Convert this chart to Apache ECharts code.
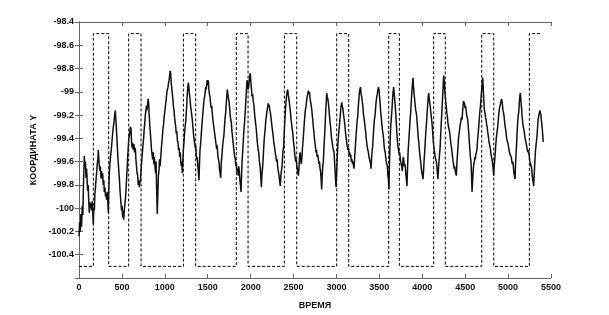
<!DOCTYPE html>
<html lang="ru">
<head>
	<meta charset="UTF-8">
	<title>КООРДИНАТА Y</title>
	<script type="text/javascript" src="https://cdn.jsdelivr.net/npm/echarts@6/dist/echarts.min.js"></script>
	<style type="text/css">
		html, body { margin: 0; padding: 0; background: #fff; }
		#main { width: 609px; height: 315px; }
	</style>
</head>
<body>
	<div id="main"></div>
	<script type="text/javascript">
		// измеренная координата: [время, Y]
		var coordY = [
			[0,-100.24],[8,-100.12],[15,-100.2],[22,-100.05],[30,-100.16],[38,-99.98],[45,-100.06],[52,-99.8],[58,-99.65],[62,-99.55],[68,-99.64],[75,-99.6],[82,-99.74],[88,-99.66],[93,-99.72],[100,-99.85],[107,-99.8],[113,-99.93],[120,-100.04],[127,-99.95],[133,-100.0],[140,-99.96],[147,-100.02],[153,-99.94],[159,-100.0],[163,-100.08],[167,-100.14],[172,-100.0],[179,-100.02],[185,-99.88],[192,-99.82],[198,-99.76],[205,-99.7],[212,-99.62],[220,-99.58],[225,-99.5],[229,-99.55],[235,-99.62],[242,-99.68],[249,-99.64],[256,-99.74],[262,-99.68],[270,-99.75],[276,-99.7],[282,-99.8],[289,-99.76],[295,-99.86],[302,-99.82],[309,-99.9],[315,-99.88],[322,-99.93],[328,-99.86],[334,-99.92],[338,-99.98],[342,-100.04],[347,-99.85],[353,-99.7],[360,-99.62],[368,-99.55],[376,-99.5],[385,-99.42],[392,-99.36],[400,-99.3],[408,-99.26],[415,-99.2],[423,-99.16],[430,-99.24],[439,-99.36],[446,-99.46],[453,-99.56],[462,-99.66],[470,-99.74],[477,-99.84],[483,-99.9],[489,-99.96],[496,-100.02],[502,-99.98],[509,-100.08],[515,-100.02],[521,-100.1],[528,-100.02],[535,-99.96],[541,-99.92],[548,-99.84],[555,-99.74],[561,-99.66],[567,-99.56],[574,-99.48],[580,-99.4],[586,-99.38],[593,-99.34],[600,-99.3],[606,-99.32],[612,-99.42],[618,-99.48],[625,-99.44],[632,-99.5],[640,-99.45],[648,-99.52],[656,-99.48],[663,-99.58],[670,-99.64],[677,-99.7],[684,-99.72],[690,-99.8],[697,-99.76],[703,-99.82],[709,-99.76],[715,-99.78],[722,-99.68],[730,-99.6],[737,-99.54],[745,-99.46],[753,-99.4],[760,-99.32],[767,-99.26],[773,-99.2],[780,-99.16],[786,-99.12],[792,-99.16],[800,-99.1],[806,-99.06],[812,-99.1],[818,-99.2],[824,-99.28],[830,-99.34],[838,-99.42],[845,-99.5],[852,-99.54],[858,-99.58],[865,-99.52],[872,-99.62],[878,-99.56],[885,-99.64],[892,-99.7],[898,-99.6],[905,-99.85],[912,-100.05],[918,-99.9],[925,-99.72],[932,-99.68],[938,-99.58],[945,-99.64],[951,-99.58],
			[958,-99.5],[965,-99.44],[972,-99.38],[978,-99.32],[985,-99.28],[992,-99.22],[998,-99.18],[1004,-99.14],[1010,-99.1],[1017,-99.06],[1024,-99.0],[1030,-98.98],[1037,-98.96],[1044,-98.92],[1050,-98.9],[1056,-98.86],[1062,-98.82],[1068,-98.84],[1074,-98.92],[1080,-98.96],[1088,-99.02],[1094,-99.06],[1100,-99.12],[1107,-99.16],[1114,-99.22],[1120,-99.26],[1127,-99.3],[1134,-99.36],[1140,-99.34],[1147,-99.42],[1154,-99.44],[1160,-99.5],[1167,-99.48],[1173,-99.56],[1180,-99.52],[1186,-99.6],[1192,-99.64],[1198,-99.6],[1204,-99.7],[1210,-99.6],[1216,-99.5],[1223,-99.44],[1230,-99.36],[1236,-99.3],[1243,-99.26],[1250,-99.18],[1256,-99.1],[1262,-99.02],[1268,-98.96],[1274,-98.92],[1280,-98.96],[1287,-99.02],[1294,-99.06],[1300,-99.12],[1307,-99.16],[1314,-99.2],[1320,-99.24],[1327,-99.3],[1334,-99.36],[1340,-99.4],[1347,-99.44],[1354,-99.48],[1360,-99.46],[1366,-99.54],[1372,-99.58],[1379,-99.56],[1385,-99.64],[1392,-99.7],[1398,-99.76],[1404,-99.62],[1410,-99.5],[1418,-99.44],[1425,-99.36],[1431,-99.3],[1437,-99.24],[1444,-99.18],[1451,-99.12],[1458,-99.06],[1464,-99.04],[1470,-99.0],[1476,-98.96],[1482,-98.98],[1488,-98.94],[1494,-98.9],[1500,-98.94],[1507,-98.9],[1513,-98.98],[1520,-99.02],[1526,-99.04],[1533,-99.1],[1540,-99.14],[1546,-99.12],[1553,-99.18],[1560,-99.24],[1567,-99.28],[1574,-99.32],[1581,-99.36],[1588,-99.4],[1595,-99.44],[1604,-99.49],[1610,-99.46],[1617,-99.54],[1624,-99.58],[1631,-99.6],[1637,-99.66],[1644,-99.7],[1651,-99.74],[1657,-99.62],[1664,-99.56],[1670,-99.5],[1677,-99.44],[1684,-99.4],[1690,-99.36],[1697,-99.28],[1703,-99.22],[1709,-99.18],[1716,-99.1],[1722,-99.04],[1728,-98.98],[1735,-99.02],[1742,-99.06],[1748,-99.08],[1755,-99.14],[1762,-99.2],[1768,-99.24],[1775,-99.26],[1782,-99.34],[1788,-99.38],[1795,-99.43],
			[1802,-99.48],[1808,-99.52],[1815,-99.56],[1822,-99.58],[1828,-99.64],[1835,-99.62],[1841,-99.69],[1848,-99.66],[1855,-99.72],[1862,-99.64],[1868,-99.68],[1875,-99.76],[1881,-99.8],[1888,-99.86],[1894,-99.72],[1900,-99.6],[1907,-99.52],[1913,-99.44],[1919,-99.36],[1925,-99.3],[1931,-99.24],[1938,-99.16],[1944,-99.08],[1951,-98.98],[1958,-98.9],[1964,-98.94],[1970,-98.98],[1977,-98.96],[1984,-98.9],[1990,-98.86],[1996,-98.84],[2003,-98.92],[2010,-98.98],[2016,-99.04],[2023,-99.02],[2030,-99.08],[2036,-99.1],[2043,-99.16],[2050,-99.22],[2056,-99.26],[2063,-99.3],[2070,-99.36],[2076,-99.42],[2082,-99.46],[2088,-99.5],[2094,-99.52],[2100,-99.58],[2106,-99.62],[2113,-99.66],[2119,-99.74],[2125,-99.82],[2131,-99.72],[2138,-99.66],[2144,-99.6],[2151,-99.5],[2157,-99.42],[2164,-99.36],[2171,-99.3],[2178,-99.24],[2185,-99.2],[2192,-99.16],[2199,-99.13],[2205,-99.1],[2210,-99.09],[2217,-99.12],[2224,-99.16],[2230,-99.18],[2237,-99.22],[2243,-99.26],[2249,-99.3],[2256,-99.34],[2263,-99.38],[2270,-99.44],[2276,-99.46],[2283,-99.5],[2290,-99.54],[2296,-99.56],[2302,-99.6],[2309,-99.58],[2315,-99.64],[2321,-99.68],[2327,-99.7],[2334,-99.74],[2340,-99.78],[2346,-99.81],[2352,-99.72],[2359,-99.68],[2366,-99.64],[2372,-99.56],[2378,-99.5],[2385,-99.47],[2391,-99.36],[2398,-99.26],[2404,-99.18],[2411,-99.1],[2418,-99.04],[2425,-99.0],[2432,-98.98],[2438,-99.02],[2445,-99.06],[2451,-99.09],[2458,-99.14],[2465,-99.18],[2471,-99.24],[2478,-99.28],[2485,-99.32],[2492,-99.36],[2498,-99.42],[2505,-99.46],[2512,-99.52],[2518,-99.56],[2525,-99.6],[2532,-99.58],[2538,-99.64],[2544,-99.66],[2551,-99.7],[2557,-99.72],[2564,-99.64],[2570,-99.56],[2576,-99.52],[2583,-99.56],[2589,-99.62],[2596,-99.58],[2602,-99.5],[2609,-99.44],[2615,-99.38],[2622,-99.3],[2630,-99.22],[2637,-99.16],[2645,-99.13],[2652,-99.08],[2659,-99.04],[2666,-99.02],[2672,-98.99],[2679,-99.02],[2686,-99.0],[2693,-99.06],[2700,-99.09],
			[2706,-99.12],[2712,-99.15],[2718,-99.2],[2724,-99.24],[2730,-99.3],[2737,-99.34],[2743,-99.4],[2750,-99.44],[2756,-99.48],[2762,-99.52],[2768,-99.5],[2775,-99.56],[2782,-99.54],[2789,-99.58],[2796,-99.62],[2802,-99.6],[2809,-99.66],[2816,-99.69],[2822,-99.76],[2828,-99.84],[2834,-99.72],[2840,-99.64],[2847,-99.6],[2853,-99.5],[2860,-99.4],[2867,-99.3],[2873,-99.2],[2880,-99.1],[2886,-99.01],[2892,-99.04],[2899,-99.06],[2905,-99.09],[2912,-99.14],[2918,-99.2],[2925,-99.26],[2932,-99.3],[2938,-99.36],[2945,-99.41],[2952,-99.44],[2958,-99.48],[2965,-99.5],[2972,-99.52],[2978,-99.6],[2984,-99.68],[2990,-99.76],[2995,-99.82],[3002,-99.7],[3010,-99.55],[3016,-99.46],[3022,-99.4],[3028,-99.34],[3033,-99.3],[3040,-99.24],[3047,-99.18],[3054,-99.12],[3061,-99.09],[3067,-99.12],[3074,-99.14],[3080,-99.18],[3087,-99.22],[3094,-99.26],[3100,-99.3],[3107,-99.36],[3114,-99.4],[3120,-99.44],[3127,-99.47],[3134,-99.5],[3140,-99.48],[3147,-99.54],[3154,-99.52],[3160,-99.56],[3167,-99.54],[3173,-99.6],[3180,-99.58],[3187,-99.62],[3193,-99.6],[3199,-99.64],[3205,-99.66],[3212,-99.56],[3218,-99.5],[3224,-99.43],[3230,-99.36],[3236,-99.3],[3242,-99.24],[3248,-99.21],[3255,-99.12],[3262,-99.06],[3268,-99.0],[3274,-98.98],[3280,-98.96],[3287,-99.02],[3294,-99.04],[3300,-99.08],[3307,-99.12],[3313,-99.18],[3320,-99.22],[3327,-99.26],[3333,-99.3],[3340,-99.34],[3347,-99.4],[3353,-99.44],[3360,-99.48],[3366,-99.5],[3372,-99.52],[3379,-99.56],[3386,-99.58],[3392,-99.6],[3398,-99.62],[3403,-99.66],[3410,-99.56],[3416,-99.5],[3422,-99.47],[3429,-99.38],[3436,-99.3],[3442,-99.24],[3449,-99.21],[3456,-99.14],[3463,-99.08],[3470,-99.04],[3476,-99.02],[3483,-98.98],[3490,-98.96],[3496,-98.98],[3502,-99.04],[3509,-99.1],[3516,-99.18],[3522,-99.22],[3529,-99.28],[3535,-99.32],[3542,-99.36],[3549,-99.4],[3555,-99.46],[3561,-99.5],[3568,-99.52],[3574,-99.56],[3580,-99.6],[3587,-99.62],[3593,-99.64],[3600,-99.72],[3606,-99.76],[3612,-99.84],
			[3618,-99.6],[3625,-99.43],[3632,-99.3],[3640,-99.22],[3647,-99.15],[3654,-99.06],[3660,-99.0],[3667,-98.96],[3673,-99.02],[3680,-99.08],[3686,-99.13],[3692,-99.2],[3698,-99.28],[3704,-99.35],[3710,-99.42],[3717,-99.47],[3724,-99.5],[3730,-99.54],[3736,-99.52],[3741,-99.55],[3748,-99.6],[3754,-99.62],[3760,-99.64],[3766,-99.68],[3772,-99.62],[3778,-99.56],[3784,-99.58],[3790,-99.64],[3797,-99.62],[3803,-99.66],[3810,-99.72],[3816,-99.76],[3822,-99.81],[3828,-99.66],[3835,-99.52],[3842,-99.43],[3848,-99.36],[3855,-99.28],[3860,-99.22],[3865,-99.18],[3872,-99.08],[3879,-99.0],[3885,-98.94],[3892,-98.88],[3898,-98.96],[3905,-99.02],[3912,-99.07],[3918,-99.12],[3924,-99.16],[3930,-99.18],[3935,-99.21],[3942,-99.28],[3948,-99.34],[3954,-99.4],[3959,-99.43],[3966,-99.5],[3972,-99.54],[3978,-99.58],[3982,-99.6],[3989,-99.66],[3996,-99.7],[4002,-99.72],[4009,-99.75],[4016,-99.66],[4022,-99.58],[4028,-99.52],[4034,-99.44],[4040,-99.36],[4046,-99.3],[4052,-99.24],[4058,-99.16],[4064,-99.1],[4070,-99.04],[4075,-99.01],[4082,-99.06],[4088,-99.1],[4094,-99.13],[4100,-99.18],[4106,-99.22],[4112,-99.26],[4117,-99.3],[4124,-99.38],[4130,-99.44],[4137,-99.49],[4144,-99.52],[4150,-99.56],[4157,-99.58],[4164,-99.6],[4170,-99.64],[4176,-99.7],[4183,-99.75],[4189,-99.66],[4195,-99.6],[4201,-99.54],[4207,-99.49],[4213,-99.4],[4219,-99.3],[4225,-99.22],[4230,-99.15],[4236,-99.06],[4242,-98.98],[4246,-98.9],[4250,-98.86],[4256,-98.92],[4262,-98.98],[4269,-99.04],[4275,-99.1],[4281,-99.14],[4286,-99.18],[4292,-99.21],[4298,-99.26],[4305,-99.3],[4312,-99.32],[4319,-99.35],[4326,-99.4],[4333,-99.44],[4340,-99.48],[4347,-99.52],[4353,-99.56],[4359,-99.6],[4365,-99.62],[4370,-99.66],[4377,-99.64],[4384,-99.68],[4390,-99.7],[4397,-99.72],[4403,-99.62],[4410,-99.54],[4416,-99.47],[4422,-99.4],[4429,-99.36],[4436,-99.32],[4442,-99.28],[4449,-99.26],[4456,-99.22],[4463,-99.24],[4469,-99.18],[4475,-99.12],[4480,-99.08],[4486,-99.07],[4492,-99.1],[4498,-99.14],[4504,-99.12],[4510,-99.15],[4517,-99.2],[4523,-99.22],[4529,-99.24],
			[4536,-99.3],[4542,-99.36],[4548,-99.43],[4555,-99.5],[4561,-99.56],[4568,-99.6],[4574,-99.72],[4580,-99.86],[4587,-99.76],[4595,-99.66],[4601,-99.62],[4607,-99.6],[4613,-99.56],[4618,-99.58],[4624,-99.54],[4631,-99.52],[4638,-99.49],[4644,-99.42],[4651,-99.36],[4658,-99.3],[4664,-99.24],[4670,-99.18],[4677,-99.13],[4684,-99.06],[4690,-99.0],[4697,-98.94],[4704,-98.88],[4710,-98.96],[4716,-99.06],[4723,-99.15],[4730,-99.18],[4737,-99.22],[4743,-99.24],[4750,-99.28],[4756,-99.3],[4762,-99.34],[4766,-99.35],[4773,-99.4],[4780,-99.44],[4789,-99.47],[4795,-99.5],[4801,-99.54],[4807,-99.56],[4813,-99.58],[4820,-99.62],[4826,-99.66],[4832,-99.72],[4838,-99.64],[4845,-99.58],[4851,-99.52],[4858,-99.44],[4865,-99.38],[4872,-99.34],[4879,-99.3],[4886,-99.24],[4893,-99.18],[4900,-99.14],[4906,-99.13],[4912,-99.1],[4918,-99.08],[4924,-99.06],[4929,-99.08],[4935,-99.12],[4941,-99.16],[4947,-99.18],[4953,-99.21],[4960,-99.26],[4966,-99.3],[4971,-99.32],[4976,-99.35],[4983,-99.4],[4990,-99.42],[4997,-99.44],[5003,-99.46],[5010,-99.5],[5017,-99.52],[5024,-99.54],[5030,-99.53],[5037,-99.56],[5044,-99.6],[5050,-99.62],[5056,-99.6],[5061,-99.64],[5068,-99.7],[5074,-99.72],[5081,-99.75],[5087,-99.62],[5094,-99.52],[5100,-99.43],[5106,-99.34],[5112,-99.26],[5118,-99.2],[5124,-99.18],[5130,-99.1],[5137,-99.04],[5143,-99.01],[5150,-99.08],[5157,-99.14],[5163,-99.21],[5170,-99.26],[5177,-99.3],[5183,-99.32],[5190,-99.35],[5197,-99.4],[5204,-99.42],[5210,-99.44],[5217,-99.47],[5224,-99.5],[5231,-99.52],[5238,-99.5],[5244,-99.54],[5248,-99.55],[5255,-99.6],[5262,-99.62],[5268,-99.64],[5275,-99.66],[5281,-99.72],[5288,-99.76],[5294,-99.78],[5298,-99.81],[5305,-99.7],[5312,-99.6],[5318,-99.52],[5325,-99.46],[5331,-99.42],[5337,-99.38],[5344,-99.3],[5350,-99.24],[5357,-99.21],[5364,-99.18],[5370,-99.16],[5376,-99.15],[5383,-99.2],[5390,-99.26],[5396,-99.3],[5403,-99.36],[5410,-99.43]
		];

		// моменты переключения и уровень после переключения (пунктир)
		var switchTimes = [0, 167, 346, 579, 723, 1216, 1360, 1833, 1970, 2393, 2537, 3003, 3143, 3609, 3733, 4133, 4268, 4693, 4833, 5248, 5400];
		var switchLevels = [-100.5, -98.5, -100.5, -98.5, -100.5, -98.5, -100.5, -98.5, -100.5, -98.5, -100.5, -98.5, -100.5, -98.5, -100.5, -98.5, -100.5, -98.5, -100.5, -98.5, -98.5];

		var xTicks = { min: 0, max: 5500, interval: 500 };
		var yTicks = { min: -100.6, max: -98.4, interval: 0.2 };

		var pulse = [];
		for (var i = 0; i < switchTimes.length; i++) {
			pulse.push([switchTimes[i], switchLevels[i]]);
		}

		var labelFont = {
			color: '#111',
			fontFamily: 'Liberation Sans, Arial, sans-serif',
			fontWeight: 'bold',
			fontSize: 9
		};
		var frame = { lineStyle: { color: '#666', width: 1 } };
		var innerTick = { show: true, inside: true, length: 4, lineStyle: { color: '#666' } };

		var chart = echarts.init(document.getElementById('main'));
		chart.setOption({
			animation: false,
			grid: { left: 79, right: 58, top: 22, bottom: 36 },
			xAxis: [
				{
					type: 'value',
					min: xTicks.min, max: xTicks.max, interval: xTicks.interval,
					name: 'ВРЕМЯ',
					nameLocation: 'middle',
					nameGap: 23,
					nameTextStyle: labelFont,
					axisLine: frame,
					axisTick: innerTick,
					axisLabel: Object.assign({
						margin: 5,
						formatter: function (v) { return String(v); }
					}, labelFont),
					splitLine: { show: false }
				},
				{
					type: 'value', position: 'top',
					min: xTicks.min, max: xTicks.max, interval: xTicks.interval,
					axisLine: frame,
					axisTick: innerTick,
					axisLabel: { show: false },
					splitLine: { show: false }
				}
			],
			yAxis: [
				{
					type: 'value',
					min: yTicks.min, max: yTicks.max, interval: yTicks.interval,
					name: 'КООРДИНАТА Y',
					nameLocation: 'middle',
					nameGap: 41,
					nameTextStyle: labelFont,
					axisLine: frame,
					axisTick: innerTick,
					axisLabel: Object.assign({
						margin: 5,
						formatter: function (v) {
							if (v < -100.55) return '';
							return String(+v.toFixed(1));
						}
					}, labelFont),
					splitLine: { show: false }
				},
				{
					type: 'value', position: 'right',
					min: yTicks.min, max: yTicks.max, interval: yTicks.interval,
					axisLine: frame,
					axisTick: innerTick,
					axisLabel: { show: false },
					splitLine: { show: false }
				}
			],
			series: [
				{
					name: 'режим',
					type: 'line',
					step: 'end',
					data: pulse,
					symbol: 'none',
					lineStyle: { color: '#000', width: 1, type: [3, 2] }
				},
				{
					name: 'Y',
					type: 'line',
					data: coordY,
					symbol: 'none',
					lineStyle: { color: '#111', width: 1.5 }
				}
			]
		});
	</script>
</body>
</html>
